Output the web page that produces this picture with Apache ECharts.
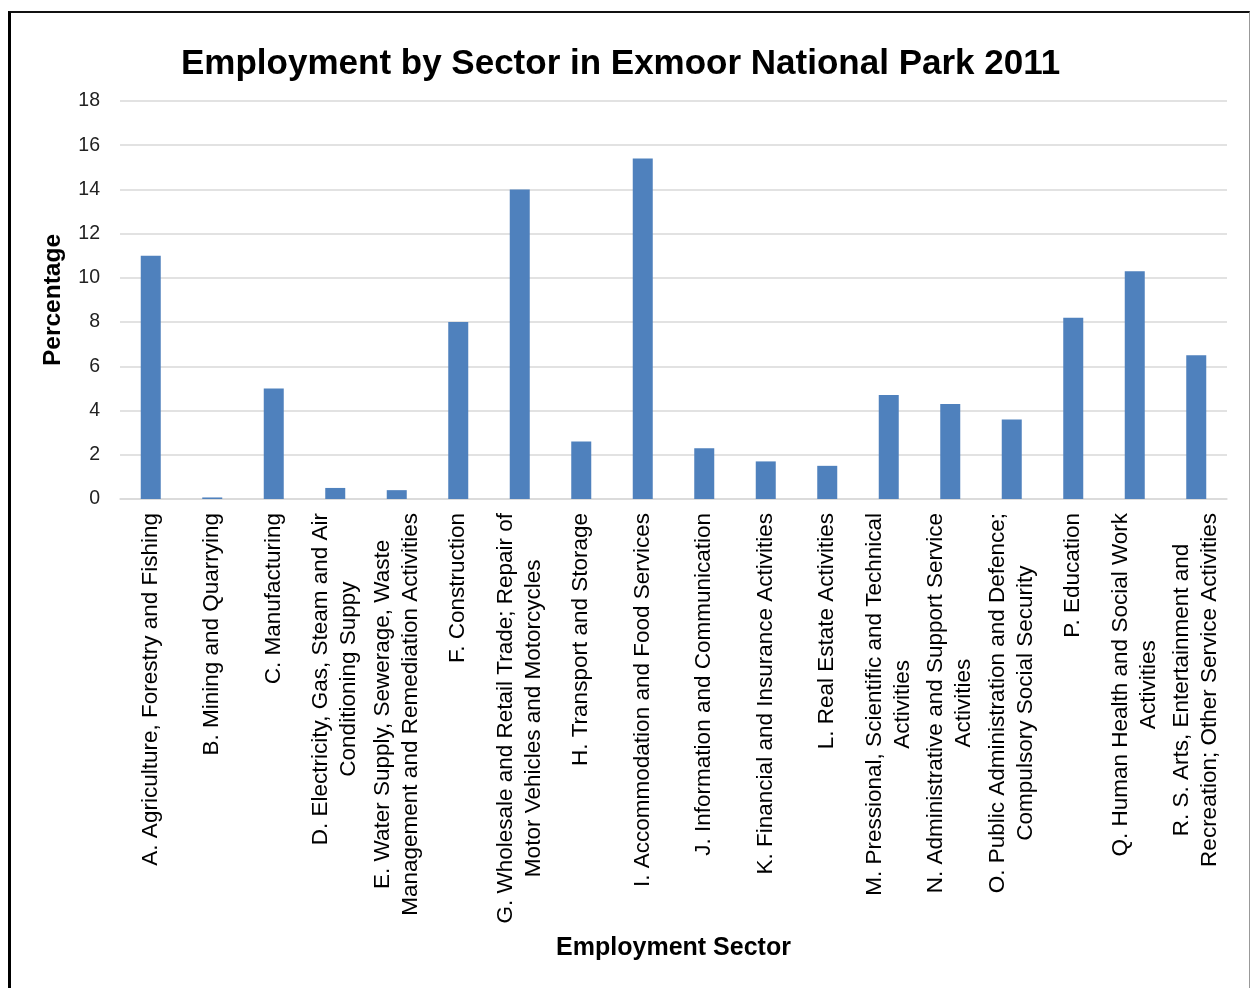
<!DOCTYPE html>
<html>
<head>
<meta charset="utf-8">
<script src="https://cdn.jsdelivr.net/npm/echarts@6/dist/echarts.min.js"></script>
<style>
  html, body { margin: 0; padding: 0; background: #fff; }
  #chart { position: absolute; left: 0; top: 0; width: 1252px; height: 988px; }
  #frame { position: absolute; left: 8px; top: 11px; width: 1238px; height: 1000px;
           border-left: 3px solid #000; border-top: 2px solid #111; border-right: 1px solid #999;
           pointer-events: none; }
</style>
</head>
<body>
<div id="chart"></div>
<div id="frame"></div>
<script>
const titleText = 'Employment by Sector in Exmoor National Park 2011';
const xAxisName = 'Employment Sector';
const yAxisName = 'Percentage';
const categories = [
  'A. Agriculture, Forestry and Fishing',
  'B. Mining and Quarrying',
  'C. Manufacturing',
  'D. Electricity, Gas, Steam and Air\nConditioning Suppy',
  'E. Water Supply, Sewerage, Waste\nManagement and Remediation Activities',
  'F. Construction',
  'G. Wholesale and Retail Trade; Repair of\nMotor Vehicles and Motorcycles',
  'H. Transport and Storage',
  'I. Accommodation and Food Services',
  'J. Information and Communication',
  'K. Financial and Insurance Activities',
  'L. Real Estate Activities',
  'M. Pressional, Scientific and Technical\nActivities',
  'N. Administrative and Support Service\nActivities',
  'O. Public Administration and Defence;\nCompulsory Social Security',
  'P. Education',
  'Q. Human Health and Social Work\nActivities',
  'R. S. Arts, Entertainment and\nRecreation; Other Service Activities'
];
const percentages = [11.0, 0.07, 5.0, 0.5, 0.4, 8.0, 14.0, 2.6, 15.4, 2.3, 1.7, 1.5, 4.7, 4.3, 3.6, 8.2, 10.3, 6.5];
const yTicks = { min: 0, max: 18, interval: 2 };

const chart = echarts.init(document.getElementById('chart'), null, { renderer: 'canvas' });
const font = '"Liberation Sans", Arial, sans-serif';
chart.setOption({
  animation: false,
  backgroundColor: '#fff',
  title: {
    text: titleText,
    left: 176,
    top: 42,
    textStyle: { fontFamily: font, fontWeight: 'bold', fontSize: 35, color: '#000' }
  },
  grid: { left: 120, right: 25, top: 101, bottom: 489, containLabel: false, outerBoundsMode: 'none' },
  xAxis: {
    type: 'category',
    data: categories,
    name: xAxisName,
    nameLocation: 'middle',
    nameGap: 437,
    nameTextStyle: { fontFamily: font, fontWeight: 'bold', fontSize: 25, color: '#000' },
    axisLine: { lineStyle: { color: '#d9d9d9', width: 1.5 } },
    axisTick: { show: false },
    axisLabel: {
      interval: 0,
      rotate: 90,
      margin: 14,
      formatter: function (v) {
        return v.split('\n').map(function (s) { return '{c|' + s + '}'; }).join('\n');
      },
      rich: {
        c: { fontFamily: font, fontSize: 22.5, lineHeight: 28, align: 'center', color: '#000' }
      }
    }
  },
  yAxis: {
    type: 'value',
    min: yTicks.min,
    max: yTicks.max,
    interval: yTicks.interval,
    name: yAxisName,
    nameLocation: 'middle',
    nameGap: 54,
    nameTextStyle: { fontFamily: font, fontWeight: 'bold', fontSize: 24.5, color: '#000' },
    axisLine: { show: false },
    axisTick: { show: false },
    axisLabel: { fontFamily: font, fontSize: 19.5, color: '#222', margin: 20 },
    splitLine: { lineStyle: { color: '#d9d9d9', width: 1.5 } }
  },
  series: [{
    type: 'bar',
    data: percentages,
    barWidth: 20,
    itemStyle: { color: '#4f81bd' }
  }]
});
</script>
</body>
</html>
